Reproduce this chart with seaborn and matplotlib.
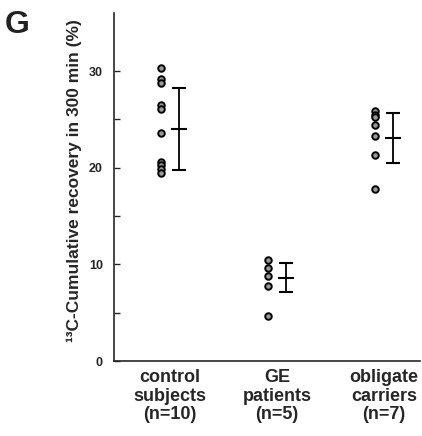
import numpy as np
import pandas as pd
import matplotlib
matplotlib.use("Agg")
import matplotlib.pyplot as plt
import seaborn as sns

groups = ["control\nsubjects\n(n=10)", "GE\npatients\n(n=5)", "obligate\ncarriers\n(n=7)"]
control = [30.3, 29.2, 28.8, 26.5, 26.1, 23.6, 20.6, 20.3, 19.9, 19.5]
ge = [10.5, 9.6, 8.8, 7.8, 4.7]
carriers = [25.9, 25.5, 25.2, 24.4, 23.3, 21.3, 17.8]
means = [24.0, 8.6, 23.1]
sds = [4.2, 1.5, 2.6]

sns.set_style("white")
plt.rcParams["font.family"] = ["Liberation Sans", "DejaVu Sans"]
plt.rcParams["font.weight"] = "bold"

rows = []
for i, vals in enumerate([control, ge, carriers]):
    for v in vals:
        rows.append({"group": i, "recovery": v})
df = pd.DataFrame(rows)

dx = 0.085
fig = plt.figure(figsize=(4.22, 4.36), dpi=100)
ax = fig.add_axes([0.270, 0.172, 0.725, 0.798])

df["x"] = df["group"] - dx
sns.scatterplot(data=df, x="x", y="recovery", ax=ax, marker="o", s=22,
                color="#999999", edgecolor="black", linewidth=1.4, zorder=3)

xb = np.arange(len(groups)) + dx
ax.errorbar(xb, means, yerr=sds, fmt="_", color="black", ecolor="black",
            markersize=12, mew=1.5, elinewidth=1.3, capsize=5, capthick=1.3)

ax.set_xlim(-0.523, 2.336)
ax.set_ylim(0, 36)
ax.set_xticks(range(len(groups)))
ax.set_xticklabels(groups, fontsize=13, fontweight="bold", linespacing=1.1)
ax.set_yticks([0, 10, 20, 30])
ax.set_yticks([5, 15, 25], minor=True)
ax.tick_params(axis="y", which="both", left=True, direction="in", length=4, width=1,
               labelsize=9, pad=8)
ax.tick_params(axis="x", length=0, pad=6)
for t in ax.get_yticklabels():
    t.set_fontweight("bold")
ax.set_xlabel("")
ax.set_ylabel("¹³C-Cumulative recovery in 300 min (%)", fontsize=12.5, fontweight="bold")
ax.yaxis.set_label_coords(-0.105, 0.52)
sns.despine(ax=ax)
ax.spines["left"].set_linewidth(1.2)
ax.spines["bottom"].set_linewidth(1.2)

fig.text(0.012, 0.977, "G", fontsize=23, fontweight="bold", color="#222222", va="top", ha="left")

fig.savefig("out.png", dpi=100)
